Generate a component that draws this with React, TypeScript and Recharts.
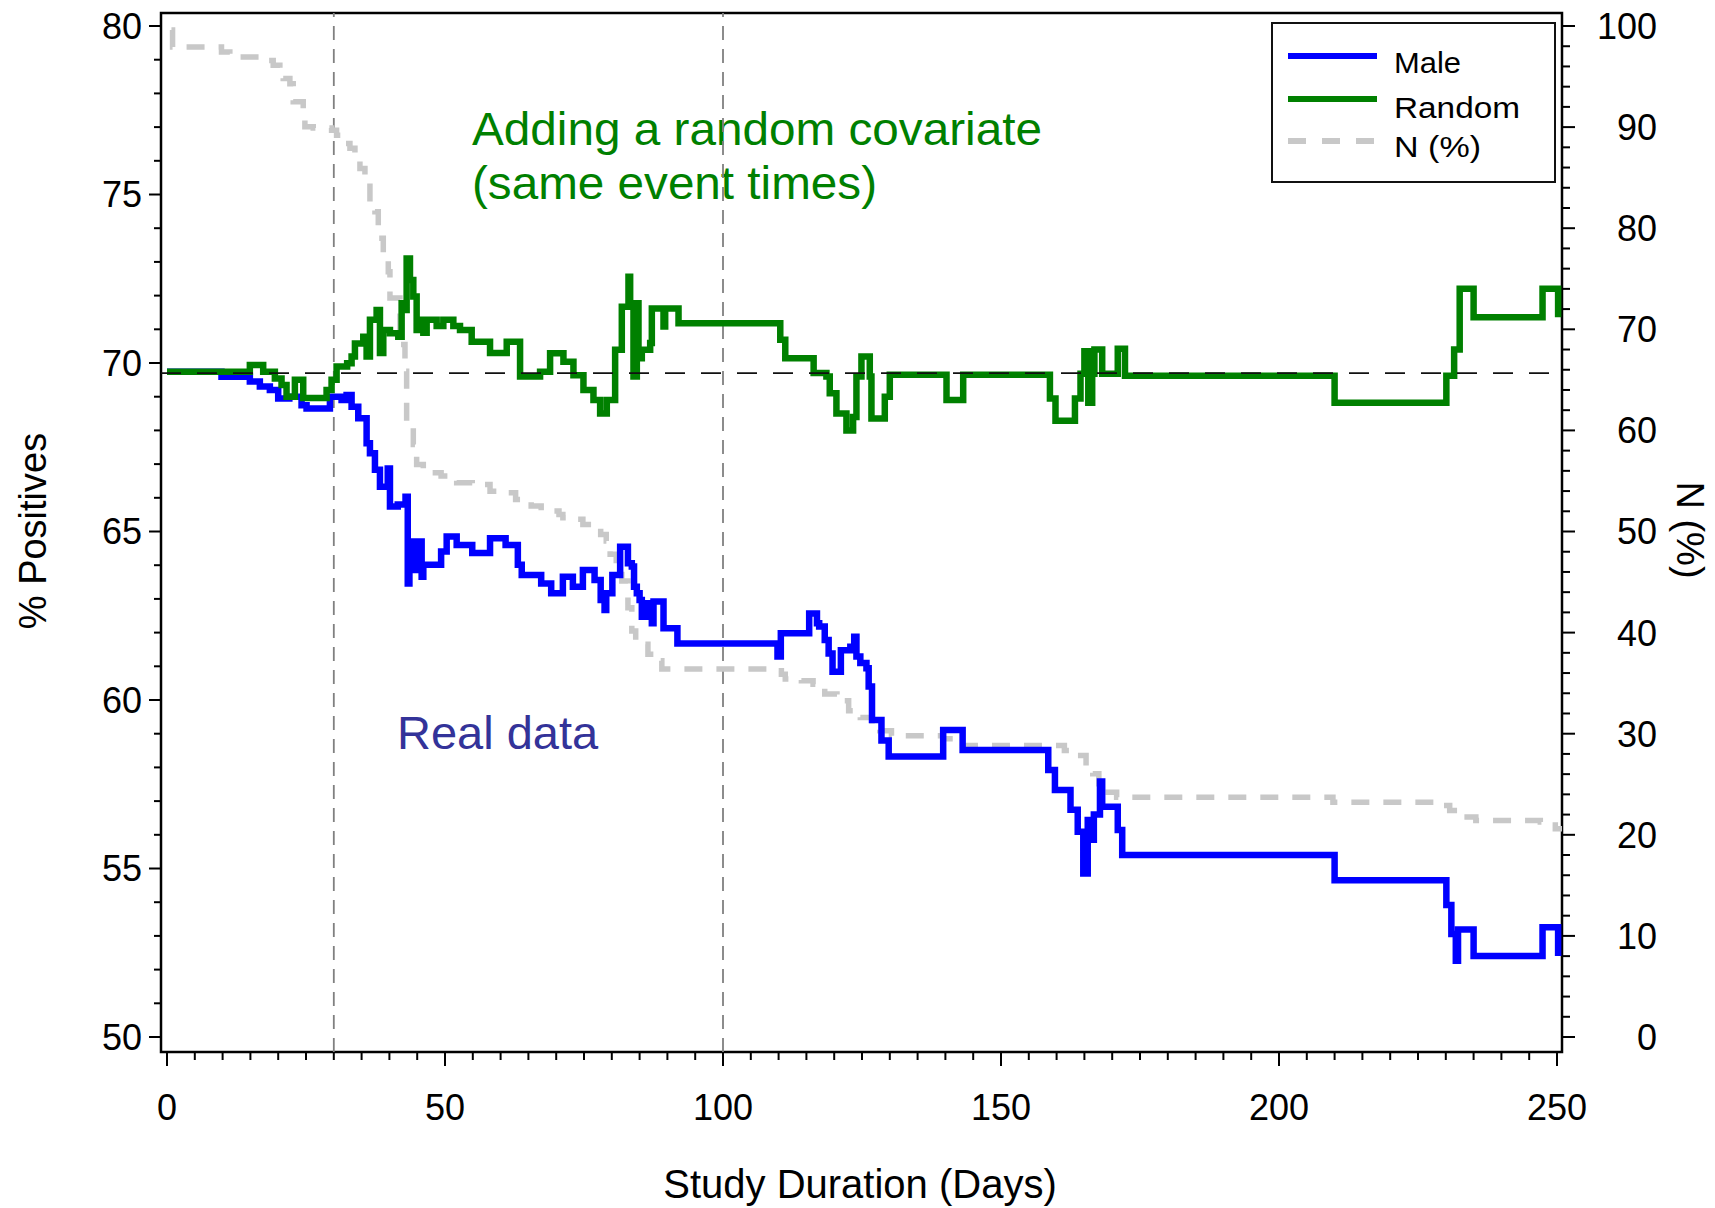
import React from 'react';
import { LineChart, Line, XAxis, YAxis, ReferenceLine, ReferenceArea, Legend } from 'recharts';

const FONT = '"Liberation Sans", Arial, sans-serif';

// [day, % positives] — value holds from that day on (step curve)
const maleSteps: [number, number][] = [
  [0, 69.74], [9.8, 69.59], [14.9, 69.45], [16.7, 69.3], [18.5, 69.2], [20, 68.95], [22, 69.0],
  [24.2, 68.75], [25.1, 68.65], [29.3, 69.0], [31.4, 68.9], [32.3, 69.05], [33.2, 68.7], [34.4, 68.36],
  [35.9, 67.62], [36.5, 67.32], [37.4, 66.83], [38.3, 66.33], [39.7, 66.87], [40.1, 65.74], [41.5, 65.8],
  [42.9, 66.03], [43.3, 63.46], [43.6, 64.7], [44.3, 63.86], [45.4, 64.7], [45.8, 63.66], [46.1, 64.01],
  [49.3, 64.41], [50.3, 64.85], [52.1, 64.6], [54.9, 64.36], [58.1, 64.8], [60.9, 64.6], [63.1, 64.01],
  [63.8, 63.71], [67.3, 63.46], [69.1, 63.17], [71.2, 63.66], [73.0, 63.36], [74.8, 63.86], [76.9, 63.56],
  [78.0, 62.97], [78.7, 62.67], [79.0, 63.17], [80.1, 63.71], [81.5, 64.55], [82.9, 64.06], [83.6, 63.96],
  [84.0, 63.36], [84.5, 63.17], [85.0, 62.97], [85.4, 62.47], [86.5, 62.87], [87.2, 62.28], [87.5, 62.92],
  [89.3, 62.13], [91.8, 61.68], [109.8, 61.29], [110.4, 61.98], [115.5, 62.57], [116.9, 62.28],
  [117.3, 62.18], [118.3, 61.78], [119.0, 61.38], [119.7, 60.84], [121.2, 61.48], [122.9, 61.58],
  [123.6, 61.88], [124.0, 61.29], [124.7, 61.1], [125.8, 60.94], [126.2, 60.4], [126.8, 59.41],
  [128.5, 58.8], [129.8, 58.32], [139.6, 59.11], [143.1, 58.52], [158.5, 57.92], [159.7, 57.33],
  [162.5, 56.74], [163.8, 56.09], [164.8, 54.85], [165.6, 56.44], [166.2, 55.85], [166.7, 56.6],
  [167.8, 57.58], [168.2, 56.83], [171.0, 56.14], [171.8, 55.4], [210, 54.65], [230.1, 53.92],
  [231, 53.06], [231.8, 52.26], [232.2, 53.19], [235, 52.4], [247.4, 53.26], [250.2, 52.4],
];

const randomSteps: [number, number][] = [
  [0, 69.74], [14.9, 69.94], [17.3, 69.74], [19.4, 69.54], [20.6, 69.35], [21.5, 69.0], [23, 69.5],
  [24.5, 68.96], [28.7, 69.2], [29.6, 69.5], [30.5, 69.9], [32.4, 69.99], [33.2, 70.19], [33.8, 70.58],
  [35.3, 70.78], [35.9, 70.19], [36.5, 71.28], [37.7, 71.57], [38.3, 70.3], [38.9, 70.98], [40.1, 70.88],
  [41.6, 70.78], [42.2, 71.77], [42.5, 71.57], [43.1, 73.1], [43.7, 72.46], [44.3, 71.97], [44.9, 70.98],
  [45.8, 71.28], [46.1, 70.9], [46.7, 71.28], [48.5, 71.1], [49.7, 71.28], [51.5, 71.1], [52.7, 70.98],
  [54.8, 70.63], [58.1, 70.3], [61.1, 70.63], [63.5, 69.6], [67.1, 69.74], [68.9, 70.29], [71.3, 70.04],
  [73.1, 69.64], [74.9, 69.2], [76.7, 68.9], [77.9, 68.5], [79.1, 68.9], [80.6, 70.39], [81.8, 71.67],
  [83.0, 72.56], [83.3, 71.77], [83.9, 69.6], [84.5, 71.77], [84.8, 70.14], [85.4, 70.39], [86.9, 70.59],
  [87.2, 71.62], [89.3, 71.08], [89.6, 71.62], [92, 71.18], [110.3, 70.69], [111.2, 70.14], [116.3, 69.7],
  [118.6, 69.6], [119.2, 69.1], [120.4, 68.5], [122.2, 68.0], [123.4, 68.4], [124.0, 69.6], [124.9, 70.19],
  [126.4, 69.6], [126.7, 68.35], [129.1, 69.0], [130, 69.65], [140.2, 68.9], [143.2, 69.65], [158.8, 68.95],
  [159.8, 68.29], [163.3, 68.95], [164.3, 69.68], [165, 70.35], [165.7, 68.82], [166.4, 69.68], [166.8, 70.4],
  [168.2, 69.68], [171, 70.42], [172.3, 69.62], [210, 68.82], [230.1, 69.62], [231.5, 70.4], [232.5, 72.2],
  [235, 71.36], [247.4, 72.2], [250.2, 71.36],
];

// [day, N (%) at risk]
const nPctSteps: [number, number][] = [
  [0.8, 99.6], [1.0, 97.93], [9.8, 97.43], [11.3, 96.94], [16.7, 96.6], [19.1, 96.12], [20.3, 95.46],
  [20.9, 94.8], [22.1, 94.3], [22.7, 92.5], [24.5, 91.8], [24.8, 90.03], [26.3, 89.9], [29.6, 89.7],
  [30.5, 89.2], [31.7, 88.38], [32.9, 87.9], [33.8, 86.9], [34.7, 85.9], [35.6, 84.6], [36.5, 82.3],
  [37.4, 81.64], [38.0, 79.0], [38.9, 77.03], [39.8, 75.7], [40.1, 73.1], [41.9, 68.5], [42.8, 65.84],
  [43.1, 60.25], [44.3, 58.6], [44.9, 56.63], [46.1, 56.14], [47.5, 55.8], [49.3, 55.48], [52.1, 54.82],
  [54.9, 54.65], [58.1, 53.99], [60.9, 53.83], [62.7, 53.17], [65.5, 52.52], [67.3, 52.02], [70.5, 51.69],
  [71.2, 51.36], [73.0, 51.2], [74.8, 50.7], [76.9, 50.37], [78.0, 49.71], [79.0, 49.05], [79.7, 47.74],
  [80.8, 46.09], [81.8, 45.1], [82.9, 42.47], [83.6, 40.17], [84.3, 38.86], [86.5, 37.87], [87.9, 37.21],
  [89.0, 36.39], [109.8, 36.22], [110.5, 35.89], [111.2, 35.4], [114.1, 35.23], [116.2, 34.9],
  [118.3, 33.92], [120.5, 33.26], [122.6, 32.27], [124.7, 31.61], [126.8, 30.95], [128.2, 30.29],
  [130.3, 29.8], [139.6, 29.5], [143.1, 28.83], [161.4, 28.33], [163.0, 27.84], [165.3, 26.85],
  [166.5, 26.03], [167.6, 25.04], [168.4, 24.22], [170.8, 23.72], [209.7, 23.23], [229.2, 22.9],
  [230.7, 22.41], [232.3, 21.75], [235.4, 21.42], [247.0, 21.26], [249.7, 20.6], [250.9, 20.6],
];

const refPositive = 69.7;
const markerDays = [30, 100];

const xTicks = Array.from({ length: 51 }, (_, i) => i * 5);
const leftTicks = Array.from({ length: 31 }, (_, i) => 50 + i);
const rightTicks = Array.from({ length: 51 }, (_, i) => i * 2);

const X_MIN = -1.08;
const X_MAX = 250.9;
const Y_MIN = 49.555;
const Y_MAX = 80.386;
// right axis is the left one rescaled: 50 -> 0, 80 -> 100
const N_MIN = ((Y_MIN - 50) * 10) / 3;
const N_MAX = ((Y_MAX - 50) * 10) / 3;

const toRows = (steps: [number, number][]) => steps.map(([day, v]) => ({ day, v }));

const XTick = (props: any) => {
  const { x, y, payload } = props;
  const major = payload.value % 50 === 0;
  return (
    <g>
      <line x1={x} x2={x} y1={y} y2={y + (major ? 14 : 8)} stroke="#000" strokeWidth={2} />
      {major && (
        <text x={x} y={y + 68} textAnchor="middle" fontSize={36} fontFamily={FONT} fill="#000">
          {payload.value}
        </text>
      )}
    </g>
  );
};

const LeftTick = (props: any) => {
  const { x, y, payload } = props;
  const major = payload.value % 5 === 0;
  return (
    <g>
      <line x1={x - (major ? 12 : 7)} x2={x} y1={y} y2={y} stroke="#000" strokeWidth={2} />
      {major && (
        <text x={x - 19} y={y} dy="0.36em" textAnchor="end" fontSize={36} fontFamily={FONT} fill="#000">
          {payload.value}
        </text>
      )}
    </g>
  );
};

const RightTick = (props: any) => {
  const { x, y, payload } = props;
  const major = payload.value % 10 === 0;
  return (
    <g>
      <line x1={x} x2={x + (major ? 13 : 8)} y1={y} y2={y} stroke="#000" strokeWidth={2} />
      {major && (
        <text x={x + 95} y={y} dy="0.36em" textAnchor="end" fontSize={36} fontFamily={FONT} fill="#000">
          {payload.value}
        </text>
      )}
    </g>
  );
};

const LegendBox = () => (
  <div style={{ width: 285, height: 161, boxSizing: 'border-box', border: '2px solid #111', background: '#fff' }}>
    <svg width={281} height={157} style={{ display: 'block' }}>
      <line x1={15} x2={104} y1={32} y2={32} stroke="#0000FF" strokeWidth={6} />
      <line x1={15} x2={104} y1={75} y2={75} stroke="#008000" strokeWidth={6} />
      <line x1={15} x2={104} y1={117} y2={117} stroke="#C8C8C8" strokeWidth={6} strokeDasharray="18 16" />
      <text x={121} y={49} fontSize={30} fontFamily={FONT} textLength={67} lengthAdjust="spacingAndGlyphs">Male</text>
      <text x={121} y={94} fontSize={30} fontFamily={FONT} textLength={126} lengthAdjust="spacingAndGlyphs">Random</text>
      <text x={121} y={133} fontSize={30} fontFamily={FONT} textLength={87} lengthAdjust="spacingAndGlyphs">N (%)</text>
    </svg>
  </div>
);

export default function App() {
  return (
    <div style={{ position: 'absolute', left: 0, top: 0, background: '#fff' }}>
      <LineChart width={1715} height={1208} margin={{ top: 13, right: 0, bottom: 0, left: 0 }}>
        <XAxis
          dataKey="day"
          type="number"
          domain={[X_MIN, X_MAX]}
          ticks={xTicks}
          interval={0}
          tickSize={0}
          tickMargin={0}
          tickLine={false}
          axisLine={false}
          tick={XTick}
          height={156}
          allowDataOverflow
        />
        <YAxis
          yAxisId="left"
          type="number"
          domain={[Y_MIN, Y_MAX]}
          ticks={leftTicks}
          interval={0}
          tickSize={0}
          tickMargin={0}
          tickLine={false}
          axisLine={false}
          tick={LeftTick}
          width={161}
          allowDataOverflow
        />
        <YAxis
          yAxisId="right"
          orientation="right"
          type="number"
          domain={[N_MIN, N_MAX]}
          ticks={rightTicks}
          interval={0}
          tickSize={0}
          tickMargin={0}
          tickLine={false}
          axisLine={false}
          tick={RightTick}
          width={153}
          allowDataOverflow
        />
        {markerDays.map((d) => (
          <ReferenceLine key={d} yAxisId="left" x={d} stroke="#808080" strokeWidth={1.8} strokeDasharray="14 9" />
        ))}
        <Line
          yAxisId="right"
          data={toRows(nPctSteps)}
          dataKey="v"
          name="N (%)"
          type="stepAfter"
          stroke="#C8C8C8"
          strokeWidth={5.5}
          strokeDasharray="18 14"
          dot={false}
          activeDot={false}
          isAnimationActive={false}
        />
        <Line
          yAxisId="left"
          data={toRows(maleSteps)}
          dataKey="v"
          name="Male"
          type="stepAfter"
          stroke="#0000FF"
          strokeWidth={6.5}
          dot={false}
          activeDot={false}
          isAnimationActive={false}
        />
        <Line
          yAxisId="left"
          data={toRows(randomSteps)}
          dataKey="v"
          name="Random"
          type="stepAfter"
          stroke="#008000"
          strokeWidth={6.5}
          dot={false}
          activeDot={false}
          isAnimationActive={false}
        />
        <ReferenceLine yAxisId="left" y={refPositive} stroke="#111" strokeWidth={1.8} strokeDasharray="20 16" />
        <ReferenceArea
          yAxisId="left"
          x1={X_MIN}
          x2={X_MAX}
          y1={Y_MIN}
          y2={Y_MAX}
          fill="none"
          stroke="#000"
          strokeWidth={2.5}
          ifOverflow="visible"
        />
        <Legend
          layout="horizontal"
          verticalAlign="middle"
          align="center"
          wrapperStyle={{ left: 1271, top: 22, width: 285, height: 161 }}
          content={() => <LegendBox />}
        />
        <text x={472} y={145} fill="#008000" fontSize={47} fontFamily={FONT} textLength={570} lengthAdjust="spacingAndGlyphs">Adding a random covariate</text>
        <text x={472} y={199} fill="#008000" fontSize={47} fontFamily={FONT} textLength={405} lengthAdjust="spacingAndGlyphs">(same event times)</text>
        <text x={397} y={749} fill="#333399" fontSize={47} fontFamily={FONT}>Real data</text>
        <text x={860} y={1198} textAnchor="middle" fontSize={40} fontFamily={FONT}>Study Duration (Days)</text>
        <text x={33} y={531} transform="rotate(-90 33 531)" textAnchor="middle" dominantBaseline="central" fontSize={38} fontFamily={FONT}>% Positives</text>
        <text x={1690} y={530} transform="rotate(90 1690 530)" textAnchor="middle" dominantBaseline="central" fontSize={38} fontFamily={FONT}>N (%)</text>
      </LineChart>
    </div>
  );
}
